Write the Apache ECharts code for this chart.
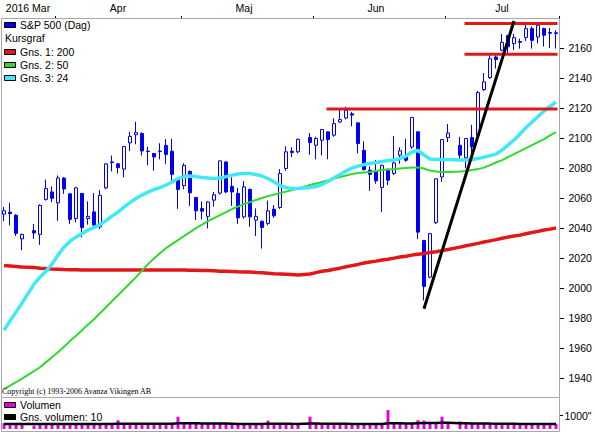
<!DOCTYPE html>
<html><head><meta charset="utf-8">
<script src="https://cdn.jsdelivr.net/npm/echarts@6/dist/echarts.min.js"></script>
<style>html,body{margin:0;padding:0;background:#fff}#c{width:595px;height:434px}</style>
</head><body><div id="c"></div>
<script>
// ---------- DATA ----------
const year = '2016';
const monthNames = {'03':'Mar','04':'Apr','05':'Maj','06':'Jun','07':'Jul'};
const dates = [
'03-21','03-22','03-23','03-24','03-25','03-28','03-29','03-30','03-31',
'04-01','04-04','04-05','04-06','04-07','04-08','04-11','04-12','04-13','04-14','04-15','04-18','04-19','04-20','04-21','04-22','04-25','04-26','04-27','04-28','04-29',
'05-02','05-03','05-04','05-05','05-06','05-09','05-10','05-11','05-12','05-13','05-16','05-17','05-18','05-19','05-20','05-23','05-24','05-25','05-26','05-27','05-30','05-31',
'06-01','06-02','06-03','06-06','06-07','06-08','06-09','06-10','06-13','06-14','06-15','06-16','06-17','06-20','06-21','06-22','06-23','06-24','06-27','06-28','06-29','06-30',
'07-01','07-04','07-05','07-06','07-07','07-08','07-11','07-12','07-13','07-14','07-15','07-18','07-19','07-20','07-21','07-22','07-25','07-26','07-27'];

const open = [
2049.5,2050.8,2048.8,2033,null,2038.5,2036,2059.3,2064.3,2057,
2073.5,2063,2046.5,2063.3,2046.6,2051,2041,2067,2083.8,2083,
2079.5,2097,2102.4,2103.2,2091.2,2089.9,2091.2,2095.3,2091.4,2073.2,
2068.5,2078,2060.6,2053.3,2048,2058.8,2063.5,2084.3,2068,2063.3,
2047.7,2066,2045.5,2044.8,2043.3,2052.8,2053.9,2079.9,2091.4,2091,
null,2100.5,2095.4,2098.7,2104.3,2102.1,2110.9,2113.6,2116.3,2110.3,
2092,2078.8,2077.6,2067.3,2078.8,2076.6,2088.8,2088.1,2094.3,2104.3,
2032,2007.5,2043.8,2074.3,2100.5,null,2095.4,2087,2100.5,2102,
2132.5,2140.5,2154.2,2158.7,2168.5,2163.1,2164.5,2167.1,2173.1,2167.5,
2173.1,2170.5,2170.3];
const high = [
2054.3,2057,2049.5,2036.5,null,2043,2056,2072.5,2068,2075.3,
2074.2,2063.3,2067.7,2063.5,2058,2063.5,2065.5,2083.5,2088.5,2083.5,
2095,2104.3,2111,2104,2094.5,2090,2096.7,2099.5,2099.8,2074,
2083.4,2078.5,2061,2058,2058,2064.3,2085.3,2084.5,2074,2067,
2071.5,2066.5,2053.3,2045,2058.5,2055.5,2079.5,2094.7,2094,2099.8,
null,2103.5,2101,2106,2104.5,2113.3,2119.2,2121,2117.6,2110.5,
2098,2081.3,2085.6,2082.5,2080,2101.5,2094,2099.7,2114,2104.5,
2032,2037,2073.5,2099.5,2109.5,null,2101,2100,2109,2131.5,
2143.5,2155.4,2156.5,2169.5,2169,2169.6,2166.4,2175.6,2174.6,2175.3,
2173.7,2173.5,2172];
const low = [
2044.8,2042,2035,2025.5,null,2033,2029,2058.5,2057.5,2045,
2063,2043,2044,2034,2042.5,2041.5,2039.5,2066,2078,2076.5,
2074,2091.5,2096,2088.5,2082,2078.5,2086,2083,2071.5,2053,
2066,2055,2045.5,2046,2040,2054.5,2062.5,2063.5,2055,2043,
2046.5,2041,2035,2026.5,2042,2047,2053,2078.5,2087.5,2090,
null,2089,2086,2088.6,2086,2101,2110.2,2112.7,2108,2090,
2078.5,2065,2069.8,2051,2068.8,2075.5,2083,2084.4,2093,2033,
1992,2006.7,2043,2071,2097.5,null,2085,2080,2090,2101.5,
2131.5,2139.5,2146.5,2157.9,2155.8,2159,2159.8,2164.9,2159.8,2163.2,
2161.2,2160.2,2159.8];
const close = [
2051.8,2049.8,2036.7,2036,null,2037,2055.3,2066.5,2060,2073.5,
2066.3,2046,2067,2040.5,2048,2042.2,2062,2083,2084.3,2080.5,
2094.5,2101.3,2103.8,2091.6,2091.5,2087.6,2091.5,2089.3,2076,2065.9,
2082,2063.7,2051.7,2051.5,2057.6,2062.4,2085,2064.3,2064.3,2047,
2067.7,2047.7,2048,2040.6,2051.7,2048.4,2076.6,2091,2090.6,2099.4,
null,2097.2,2099.9,2105.9,2099.2,2109.8,2112.5,2118.7,2115.5,2096.5,
2079.2,2076,2071.7,2082,2072.1,2083.6,2091.7,2085.4,2113.9,2037.5,
2001.3,2036.5,2073,2099.2,2103.5,null,2088.8,2099.9,2094.3,2130.5,
2137.6,2153,2152.5,2164,2161,2167.1,2164,2173.1,2165.3,2175.3,
2168.7,2170,2169.8];

const ma200 = [
2015.2,2014.9,2014.6,2014.3,null,2013.9,2013.5,2013.2,2012.9,2012.8,
2012.6,2012.5,2012.4,2012.3,2012.2,2012.2,2012.2,2012.2,2012.2,2012.2,
2012.2,2012.2,2012.2,2012.2,2012.2,2012.2,2012.2,2012.2,2012.2,2012.2,
2012.2,2012.1,2012.1,2012.0,2011.9,2011.7,2011.5,2011.4,2011.3,2011.1,
2011.0,2010.9,2010.6,2010.4,2010.1,2009.8,2009.6,2009.4,2009.2,2009.0,
null,2009.6,2010.5,2011.4,2012.0,2012.8,2013.5,2014.4,2015.2,2016.0,
2016.9,2017.6,2018.2,2018.9,2019.5,2020.2,2020.9,2021.5,2022.2,2022.7,
2023.2,2023.9,2024.5,2025.2,2025.9,null,2027.5,2028.4,2029.2,2030.0,
2030.9,2031.7,2032.5,2033.4,2034.2,2034.9,2035.5,2036.4,2037.2,2038.0,
2038.9,2039.5,2040.2];
const ma50 = [
1932.9,1935.2,1937.5,1939.9,null,1944.9,1947.5,1950.9,1954.2,1957.5,
1961.2,1964.9,1968.5,1972.2,1975.9,1979.5,1983.5,1987.5,1991.5,1995.5,
1999.5,2003.5,2007.5,2011.9,2016.2,2019.9,2023.5,2026.9,2029.5,2032.2,
2034.9,2037.5,2040.2,2042.5,2044.9,2046.9,2048.9,2050.9,2052.9,2054.5,
2056.2,2057.5,2058.9,2060.2,2061.5,2062.5,2063.5,2064.5,2065.5,2066.5,
null,2068.9,2069.9,2070.9,2071.9,2073.2,2074.2,2075.2,2076.2,2076.9,
2077.2,2077.5,2078.2,2078.9,2079.2,2079.5,2079.9,2080.2,2080.5,2080.5,
2079.9,2078.5,2077.9,2077.5,2077.5,null,2077.9,2078.2,2078.9,2079.5,
2080.5,2082.2,2083.9,2085.5,2087.5,2089.5,2091.5,2093.5,2095.5,2097.5,
2099.5,2101.9,2104.2];
const ma24 = [
1972.2,1978.2,1984.2,1990.2,null,2002.9,2007.5,2011.5,2016.2,2022.2,
2027.5,2031.5,2034.2,2036.5,2038.9,2040.5,2042.5,2045.2,2048.2,2050.9,
2054.2,2057.2,2059.9,2062.2,2064.2,2065.9,2067.2,2068.9,2070.9,2073.2,
2074.5,2074.9,2074.5,2073.9,2073.5,2073.2,2073.5,2074.5,2075.5,2076.2,
2076.5,2076.5,2075.9,2074.9,2073.2,2070.9,2068.5,2067.2,2066.5,2066.5,
null,2067.2,2067.9,2069.2,2071.2,2073.5,2075.9,2078.2,2080.2,2081.5,
2082.5,2083.2,2083.9,2084.5,2085.2,2085.5,2086.5,2088.2,2090.9,2091.9,
2088.9,2086.2,2085.9,2085.9,2085.9,null,2085.5,2085.5,2085.9,2086.5,
2087.5,2088.5,2089.5,2092.2,2095.5,2098.9,2102.9,2107.2,2110.9,2114.5,
2118.2,2121.2,2124.2];

const volume = [
430,400,420,410,null,250,420,430,440,430,
400,420,430,440,400,380,430,450,420,650,
400,420,430,440,400,350,380,420,450,910,
420,430,420,380,400,370,410,420,400,420,
380,420,430,420,620,360,420,430,350,340,
null,910,400,380,370,360,400,410,380,430,
440,430,420,440,1400,400,380,350,400,650,
620,480,460,910,380,null,560,440,380,420,
400,430,410,400,450,380,370,390,380,360,
370,380,390];
const volAvg = [
370,370,372,372,null,368,368,370,372,372,
372,372,375,375,378,378,378,380,380,395,
395,395,395,398,398,395,395,392,392,420,
420,420,418,415,412,410,405,400,395,375,
372,372,370,368,385,385,385,385,382,380,
null,400,400,398,395,392,390,385,380,375,
370,370,372,372,420,420,418,416,415,430,
440,445,445,455,455,null,420,418,415,412,
410,400,395,392,390,385,380,378,376,374,
372,370,370];

const priceTicks = [1940,1960,1980,2000,2020,2040,2060,2080,2100,2120,2140,2160];
const volTicks = [1000];

// support / resistance lines and trend line (start date, end date, value)
const levelStart = ['06-03','07-06','07-06'];
const levelEnd   = ['07-27','07-27','07-27'];
const levelValue = [2119.5, 2156.0, 2176.5];
const trendDates  = ['06-27','07-18'];
const trendValues = [1986.5, 2178.2];

const names = {price:'S&P 500 (Dag)', chartType:'Kursgraf', ma1:'Gns. 1: 200', ma2:'Gns. 2: 50', ma3:'Gns. 3: 24', vol:'Volumen', volAvg:'Gns. volumen: 10'};
const copyright = 'Copyright (c) 1993-2006 Avanza Vikingen AB';

// ---------- STYLE ----------
const BLUE='#0000f0', RED='#e01818', GREEN='#30d830', CYAN='#40e8f8', MAG='#e000e0', FRAME='#a8a8a8';
const FONT='Liberation Sans';

// month ticks (first weekday of month) and labels (middle of month)
const monthStart = new Set();
const labelMap = {};
(function(){
  let s = 0;
  for (let i = 1; i <= dates.length; i++) {
    if (i === dates.length || dates[i].slice(0,2) !== dates[i-1].slice(0,2)) {
      const m = dates[s].slice(0,2);
      const mid = Math.floor((s + i - 1) / 2);
      labelMap[mid] = (s === 0 ? year + ' ' : '') + monthNames[m];
      if (i < dates.length) monthStart.add(i);
      s = i;
    }
  }
})();

const candles = dates.map((d,i)=> open[i]==null ? '-' : [open[i], close[i], low[i], high[i]]);

const series = [
  {name:names.price, type:'candlestick', xAxisIndex:0, yAxisIndex:0, data:candles, barWidth:4, z:2,
   itemStyle:{color:'#ffffff', color0:BLUE, borderColor:BLUE, borderColor0:BLUE, borderColorDoji:BLUE, borderWidth:1}},
  {name:names.ma1, type:'line', xAxisIndex:0, yAxisIndex:0, data:ma200, symbol:'none', connectNulls:true, z:3,
   lineStyle:{color:RED, width:3.5}},
  {name:names.ma2, type:'line', xAxisIndex:0, yAxisIndex:0, data:ma50, symbol:'none', connectNulls:true, z:3,
   lineStyle:{color:GREEN, width:2}},
  {name:names.ma3, type:'line', xAxisIndex:0, yAxisIndex:0, data:ma24, symbol:'none', connectNulls:true, z:3,
   lineStyle:{color:CYAN, width:3.5}}
];
levelValue.forEach((v,k)=>{
  series.push({type:'line', xAxisIndex:0, yAxisIndex:0, symbol:'none', z:4,
    data:[[levelStart[k], v],[levelEnd[k], v]], lineStyle:{color:RED, width:3, cap:'square'}});
});
series.push({type:'line', xAxisIndex:0, yAxisIndex:0, symbol:'none', z:5, clip:false,
  data:[[trendDates[0], trendValues[0]],[trendDates[1], trendValues[1]]], lineStyle:{color:'#000', width:3}});
series.push({name:names.vol, type:'bar', xAxisIndex:1, yAxisIndex:1, data:volume, barWidth:3, z:2,
  itemStyle:{color:MAG}});
series.push({name:names.volAvg, type:'line', xAxisIndex:1, yAxisIndex:1, data:volAvg, symbol:'none', connectNulls:true, z:3,
  lineStyle:{color:'#000', width:2.5}});

// legends & frames (graphic)
const graphic = [
  {type:'rect', shape:{x:1.5, y:18.5, width:558, height:379}, style:{fill:null, stroke:FRAME, lineWidth:1}, z:1, silent:true},
  {type:'rect', shape:{x:1.5, y:397.5, width:558, height:34}, style:{fill:null, stroke:FRAME, lineWidth:1}, z:1, silent:true}
];
const legendRows = [
  {text:names.price, color:BLUE},
  {text:names.chartType, color:null},
  {text:names.ma1, color:RED},
  {text:names.ma2, color:GREEN},
  {text:names.ma3, color:CYAN}
];
legendRows.forEach((r,k)=>{
  const cy = 25.3 + k*13.1;
  if (r.color) graphic.push({type:'rect', shape:{x:4.5, y:Math.round(cy)-2.5, width:11, height:5}, style:{fill:r.color, stroke:'#000', lineWidth:1}, z:20});
  graphic.push({type:'text', x: r.color ? 20 : 5, y: cy, style:{text:r.text, fill:'#000', font:'10.5px "'+FONT+'"', textVerticalAlign:'middle'}, z:20});
});
const volLegend = [{text:names.vol, color:MAG, cy:405}, {text:names.volAvg, color:'#000', cy:417.3}];
volLegend.forEach(r=>{
  graphic.push({type:'rect', shape:{x:4.5, y:Math.round(r.cy)-2.5, width:11, height:5}, style:{fill:r.color, stroke:'#000', lineWidth:1}, z:1});
  graphic.push({type:'text', x:20, y:r.cy, style:{text:r.text, fill:'#000', font:'10.5px "'+FONT+'"', textVerticalAlign:'middle'}, z:1});
});
graphic.push({type:'text', x:2, y:391, style:{text:copyright, fill:'#000', font:'8px "Liberation Serif"', textVerticalAlign:'middle'}, z:20});

const option = {
  animation:false,
  backgroundColor:'#ffffff',
  textStyle:{fontFamily:FONT},
  grid:[
    {left:1, width:558, top:19, height:379, outerBoundsMode:'none', containLabel:false},
    {left:1, width:558, top:398, height:31, outerBoundsMode:'none', containLabel:false}
  ],
  xAxis:[
    {type:'category', gridIndex:0, data:dates, position:'top', boundaryGap:true,
     axisLine:{show:false},
     axisTick:{show:true, length:3, interval:(i)=>monthStart.has(i), lineStyle:{color:'#000', width:1}},
     axisLabel:{show:true, interval:(i)=>labelMap[i]!==undefined, formatter:(v,i)=>labelMap[i]||'', margin:6,
       color:'#000', fontSize:10.5, fontFamily:FONT},
     splitLine:{show:false}},
    {type:'category', gridIndex:1, data:dates, boundaryGap:true, show:false}
  ],
  yAxis:[
    {type:'value', gridIndex:0, position:'right', min:1927, max:2179.5,
     axisLine:{show:false}, splitLine:{show:false},
     axisTick:{show:true, length:5, customValues:priceTicks, lineStyle:{color:'#000'}},
     axisLabel:{customValues:priceTicks, margin:9.5, color:'#000', fontSize:10.5, fontFamily:FONT, formatter:(v)=>String(v)}},
    {type:'value', gridIndex:1, position:'right', min:0, max:2300,
     axisLine:{show:false}, splitLine:{show:false},
     axisTick:{show:true, length:4, customValues:volTicks, lineStyle:{color:'#000'}},
     axisLabel:{customValues:volTicks, margin:5.5, color:'#000', fontSize:10.5, fontFamily:FONT, formatter:(v)=>String(v)+'"'}}
  ],
  graphic:graphic,
  series:series
};
const chart = echarts.init(document.getElementById('c'), null, {renderer:'svg'});
chart.setOption(option);
</script>
</body></html>
